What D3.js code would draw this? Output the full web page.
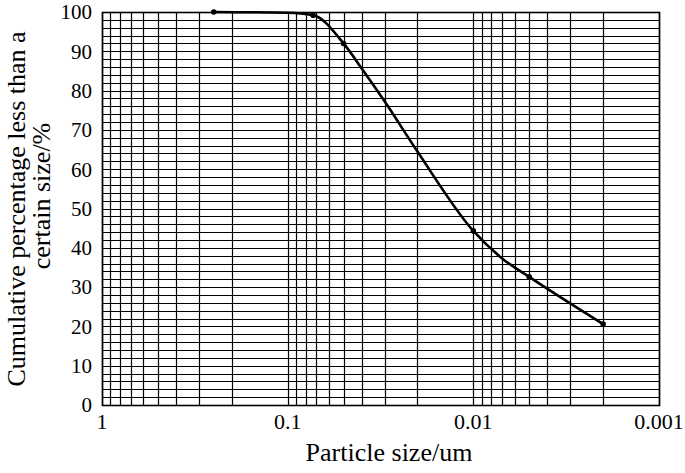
<!DOCTYPE html>
<html>
<head>
<meta charset="utf-8">
<script src="https://cdn.jsdelivr.net/npm/d3@7"></script>
<style>
  body { margin: 0; background: #fff; }
</style>
</head>
<body>
<svg id="chart" width="685" height="473" font-family="'Liberation Serif', Tinos, 'Times New Roman', 'DejaVu Serif', serif"></svg>
<script>
// particle size (um) read along the curve, and cumulative % passing
const sizes = [0.25, 0.1, 0.073, 0.05, 0.04, 0.03, 0.02, 0.01, 0.007, 0.005, 0.002];
const percents = [100, 99.8, 99.2, 92, 85.7, 77.2, 64.5, 44.3, 37.3, 32.6, 20.6];
// points drawn with a dot
const markedSizes = [0.25, 0.073, 0.05, 0.01, 0.005, 0.002];

const xTickValues = [1, 0.1, 0.01, 0.001];
const xTickLabels = ["1", "0.1", "0.01", "0.001"];
const yTickValues = [0, 10, 20, 30, 40, 50, 60, 70, 80, 90, 100];

const svg = d3.select("#chart");

const plotLeft = 102, plotRight = 659, plotTop = 12, plotBottom = 405;

const x = d3.scaleLog().domain([1, 0.001]).range([plotLeft, plotRight]);
const y = d3.scaleLinear().domain([0, 100]).range([plotBottom, plotTop]);

const snap = v => Math.round(v) + 0.5;

// grid: 1..9 per decade, and every 2 %
const xGrid = x.ticks();
const yGrid = d3.range(0, 101, 2);

const grid = svg.append("g").attr("class", "grid");

grid.selectAll(".vline")
  .data(xGrid)
  .enter()
  .append("line")
  .attr("x1", d => snap(x(d)))
  .attr("x2", d => snap(x(d)))
  .attr("y1", plotTop)
  .attr("y2", plotBottom + 1)
  .attr("stroke", "#000")
  .attr("stroke-width", 1.2);

grid.selectAll(".hline")
  .data(yGrid)
  .enter()
  .append("line")
  .attr("x1", plotLeft)
  .attr("x2", plotRight + 1)
  .attr("y1", d => snap(y(d)))
  .attr("y2", d => snap(y(d)))
  .attr("stroke", "#000")
  .attr("stroke-width", 1.2);

// frame
svg.append("rect")
  .attr("x", snap(plotLeft))
  .attr("y", snap(plotTop))
  .attr("width", Math.round(plotRight) - Math.round(plotLeft))
  .attr("height", Math.round(plotBottom) - Math.round(plotTop))
  .attr("fill", "none")
  .attr("stroke", "#000")
  .attr("stroke-width", 1.6);

// tick labels
svg.append("g")
  .selectAll("text")
  .data(xTickValues)
  .enter()
  .append("text")
  .attr("x", d => x(d))
  .attr("y", 429)
  .attr("text-anchor", "middle")
  .attr("font-size", 22)
  .text((d, i) => xTickLabels[i]);

svg.append("g")
  .selectAll("text")
  .data(yTickValues)
  .enter()
  .append("text")
  .attr("x", 92)
  .attr("y", d => y(d))
  .attr("dy", "0.35em")
  .attr("text-anchor", "end")
  .attr("font-size", 21)
  .text(d => d);

// curve
const points = sizes.map((s, i) => [x(s), y(percents[i])]);

svg.append("path")
  .datum(points)
  .attr("fill", "none")
  .attr("stroke", "#000")
  .attr("stroke-width", 2.6)
  .attr("stroke-linejoin", "round")
  .attr("d", d3.line().curve(d3.curveMonotoneX));

svg.append("g")
  .selectAll("circle")
  .data(sizes.map((s, i) => ({ s: s, p: percents[i] })).filter(d => markedSizes.includes(d.s)))
  .enter()
  .append("circle")
  .attr("cx", d => x(d.s))
  .attr("cy", d => y(d.p))
  .attr("r", 2.8)
  .attr("fill", "#000");

// axis titles
svg.append("text")
  .attr("x", 389)
  .attr("y", 461)
  .attr("text-anchor", "middle")
  .attr("font-size", 26)
  .text("Particle size/um");

svg.append("text")
  .attr("transform", "translate(25, 209) rotate(-90)")
  .attr("text-anchor", "middle")
  .attr("font-size", 26)
  .text("Cumulative percentage less than a");

svg.append("text")
  .attr("transform", "translate(50, 196) rotate(-90)")
  .attr("text-anchor", "middle")
  .attr("font-size", 26)
  .text("certain size/%");
</script>
</body>
</html>
